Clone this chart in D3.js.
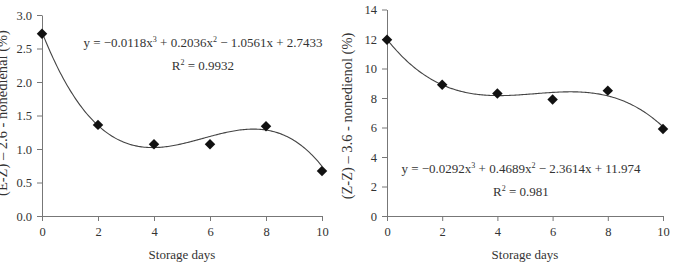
<!DOCTYPE html>
<html><head><meta charset="utf-8">
<script src="https://cdn.jsdelivr.net/npm/d3@7"></script>
<style>
body{margin:0;background:#fff;}
svg{display:block;font-family:"Liberation Serif","DejaVu Serif",serif;}
</style></head>
<body><svg id="c" width="673" height="263"></svg>
<script>
const days = [0, 2, 4, 6, 8, 10];
const xTicks = [0, 2, 4, 6, 8, 10];
const leftValues = [2.72, 1.36, 1.07, 1.07, 1.34, 0.67];
const rightValues = [11.95, 8.9, 8.3, 7.9, 8.5, 5.9];
const leftTicks = [0, 0.5, 1.0, 1.5, 2.0, 2.5, 3.0];
const rightTicks = [0, 2, 4, 6, 8, 10, 12, 14];
const leftCoef = [-0.0118, 0.2036, -1.0561, 2.7433];
const rightCoef = [-0.0292, 0.4689, -2.3614, 11.974];
const leftEq = ["y = \u22120.0118x", "3", " + 0.2036x", "2", " \u2212 1.0561x + 2.7433"];
const rightEq = ["y = \u22120.0292x", "3", " + 0.4689x", "2", " \u2212 2.3614x + 11.974"];
const leftR2 = "0.9932", rightR2 = "0.981";
const xTitle = "Storage days";
const leftYTitle = "(E-Z) \u2013 2.6 - nonedienal (%)";
const rightYTitle = "(Z-Z) \u2013 3.6 - nonedienol (%)";

const svg = d3.select("#c");
const axisColor = "#777", textColor = "#333";

function panel(o){
  const g = svg.append("g");
  const x = d3.scaleLinear().domain([0,10]).range([o.x0, o.x1]);
  const y = d3.scaleLinear().domain(o.ydom).range([o.y0, o.y1]);
  const ax = g.append("g").attr("transform",`translate(0,${o.y0})`)
    .call(d3.axisBottom(x).tickValues(xTicks).tickSize(5).tickSizeOuter(0).tickPadding(6));
  const ay = g.append("g").attr("transform",`translate(${o.x0},0)`)
    .call(d3.axisLeft(y).tickValues(o.yticks).tickFormat(o.fmt).tickSize(5).tickSizeOuter(0).tickPadding(5));
  [ax,ay].forEach(a=>{
    a.attr("font-family",null);
    a.selectAll("path,line").attr("stroke",axisColor);
    a.selectAll("text").attr("fill",textColor).style("font-size","12.5px").style("font-family","Liberation Serif");
  });
  const c = o.coef;
  const pts = d3.range(0, 10.001, 0.05).map(t=>[t, ((c[0]*t + c[1])*t + c[2])*t + c[3]]);
  g.append("path").datum(pts)
    .attr("d", d3.line().x(d=>x(d[0])).y(d=>y(d[1])))
    .attr("fill","none").attr("stroke","#444").attr("stroke-width",1.1);
  const sym = d3.symbol().type(d3.symbolSquare).size(55);
  g.selectAll(".m").data(days.map((d,i)=>[d,o.vals[i]])).enter().append("path")
    .attr("d", sym)
    .attr("transform", d=>`translate(${x(d[0])},${y(d[1])}) rotate(45)`)
    .attr("fill","#111");
  const eq = g.append("text").attr("x",o.eqx).attr("y",o.eqy).attr("text-anchor","middle")
    .attr("fill",textColor).style("font-size","13px");
  o.eq.forEach((s,i)=>{
    const ts = eq.append("tspan").text(s);
    if(i%2===1) ts.attr("dy",-5).style("font-size","8px");
    else if(i>0) ts.attr("dy",5);
  });
  const r = g.append("text").attr("x",o.eqx).attr("y",o.eqy+23).attr("text-anchor","middle")
    .attr("fill",textColor).style("font-size","13px");
  r.append("tspan").text("R");
  r.append("tspan").text("2").attr("dy",-5).style("font-size","8px");
  r.append("tspan").text(" = " + o.r2).attr("dy",5);
  g.append("text").attr("x",(o.x0+o.x1)/2).attr("y",259).attr("text-anchor","middle")
    .attr("fill",textColor).style("font-size","13px").text(xTitle);
  g.append("text").attr("transform",`translate(${o.ytx},${o.yty}) rotate(-90)`)
    .attr("text-anchor","middle").attr("fill",textColor).style("font-size","14.5px").text(o.ytitle);
}

panel({x0:42,x1:322,y0:216,y1:15,ydom:[0,3],yticks:leftTicks,fmt:d3.format(".1f"),
  vals:leftValues,coef:leftCoef,eq:leftEq,r2:leftR2,eqx:203,eqy:47,ytitle:leftYTitle,ytx:6.5,yty:113});
panel({x0:387,x1:663,y0:216,y1:9.5,ydom:[0,14],yticks:rightTicks,fmt:d3.format("d"),
  vals:rightValues,coef:rightCoef,eq:rightEq,r2:rightR2,eqx:521,eqy:173,ytitle:rightYTitle,ytx:352,yty:116});
</script></body></html>
